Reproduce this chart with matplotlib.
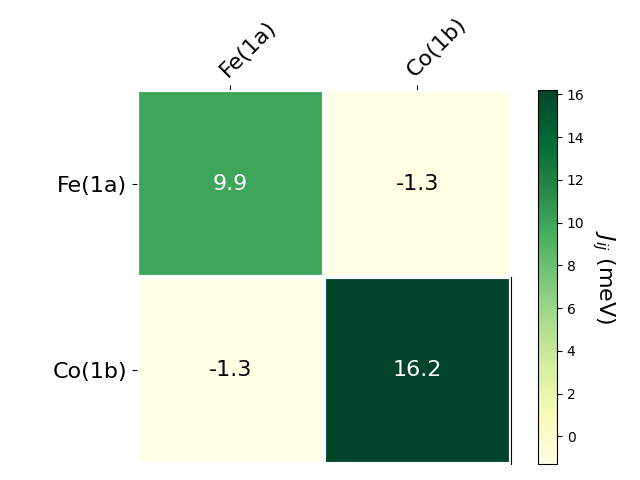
import numpy as np
import matplotlib
matplotlib.use('Agg')
import matplotlib.pyplot as plt

# exchange couplings J_ij (meV)
sites = ['Fe(1a)', 'Co(1b)']
jij = np.array([[9.9, -1.3],
                [-1.3, 16.2]])

fig = plt.figure(figsize=(6.4, 4.8), dpi=100)
ax = fig.add_axes([0.214, 0.0333, 0.584, 0.779])
cax = fig.add_axes([0.8406, 0.0333, 0.0297, 0.779])

im = ax.imshow(jij, cmap='YlGn')

cbar = fig.colorbar(im, cax=cax)
cbar.set_ticks(np.arange(0, 17, 2))
cbar.ax.set_ylabel(r'$J_{ij}$ (meV)', rotation=-90, va='bottom', fontsize=16)

ax.set_xticks(np.arange(len(sites)))
ax.set_yticks(np.arange(len(sites)))
ax.set_xticklabels(sites, fontsize=16)
ax.set_yticklabels(sites, fontsize=16)
ax.tick_params(top=True, bottom=False, labeltop=True, labelbottom=False)
plt.setp(ax.get_xticklabels(), rotation=45, ha='left', rotation_mode='anchor')

# white separators between cells
for name, sp in ax.spines.items():
    sp.set_visible(False)
ax.spines['right'].set_visible(True)
ax.spines['right'].set_bounds(1.5, 0.5)
ax.set_xticks(np.arange(jij.shape[1] + 1) - .5, minor=True)
ax.set_yticks(np.arange(jij.shape[0] + 1) - .5, minor=True)
ax.grid(which='minor', color='w', linestyle='-', linewidth=3)
ax.tick_params(which='minor', bottom=False, left=False, top=False)

thresh = im.norm(jij.max()) / 2.
for i in range(jij.shape[0]):
    for j in range(jij.shape[1]):
        col = 'white' if im.norm(jij[i, j]) > thresh else 'black'
        ax.text(j, i, '%.1f' % jij[i, j], ha='center', va='center',
                color=col, fontsize=16)

plt.savefig('out.png', dpi=100)
